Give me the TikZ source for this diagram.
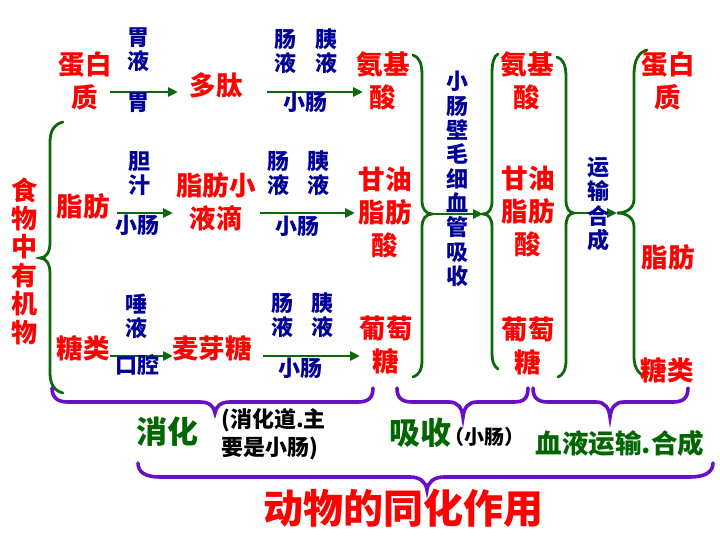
\documentclass[tikz,border=0pt]{standalone}
\usepackage{fontspec}
\setmainfont{Noto Sans CJK SC}
\usetikzlibrary{arrows.meta}
\definecolor{tred}{HTML}{FF0000}
\definecolor{tblue}{HTML}{000099}
\definecolor{tgreen}{HTML}{006600}
\definecolor{lgreen}{HTML}{0A6A0A}
\definecolor{tpurple}{HTML}{6A0FC8}
\tikzset{
  redlab/.style={text=tred,align=center,inner sep=0pt,font=\bfseries\fontsize{26.5}{33}\selectfont},
  redvert/.style={text=tred,align=center,inner sep=0pt,font=\bfseries\fontsize{26}{28.4}\selectfont},
  bluelab/.style={text=tblue,align=center,inner sep=0pt,font=\bfseries\fontsize{22}{24}\selectfont},
  bluevert/.style={text=tblue,align=center,inner sep=0pt,font=\bfseries\fontsize{22}{24.3}\selectfont},
  greenlab/.style={text=tgreen,inner sep=0pt,font=\bfseries\fontsize{31}{33}\selectfont},
  blacklab/.style={text=black,inner sep=0pt,font=\bfseries\fontsize{22}{28}\selectfont},
  conv/.style={draw=lgreen,line width=2.8pt,-{Triangle[length=10pt,width=9pt]}},
  gbrace/.style={draw=lgreen,line width=2.8pt,line cap=round},
  pbrace/.style={draw=tpurple,line width=3.6pt,line cap=round},
}
\begin{document}
\begin{tikzpicture}[x=1pt,y=-1pt]
\useasboundingbox (0,0) rectangle (720,540);
% arrow end points
\coordinate (a1s) at (110,92);  \coordinate (a1e) at (178,92);
\coordinate (a2s) at (267,92);  \coordinate (a2e) at (363,92);
\coordinate (a3s) at (117,213); \coordinate (a3e) at (173,213);
\coordinate (a4s) at (260,213); \coordinate (a4e) at (355,213);
\coordinate (a5s) at (110,356); \coordinate (a5e) at (173,356);
\coordinate (a6s) at (263,356); \coordinate (a6e) at (360,356);
\coordinate (bBtip) at (432,214); \coordinate (bCtip) at (483,214);
\coordinate (bDtip) at (574,213); \coordinate (bEtip) at (617,213);
% green braces
\draw[gbrace] (63,122) .. controls (55,124) and (50,130) .. (50,142) -- (50,243)
  .. controls (50,252) and (46,258) .. (40,258) .. controls (46,258) and (50,264) .. (50,273)
  -- (50,373) .. controls (50,385) and (55,391) .. (63,393);
\draw[gbrace] (413,55) .. controls (419,57) and (422,63) .. (422,75) -- (422,201)
  .. controls (422,209) and (426,214) .. (bBtip) .. controls (426,214) and (422,219) .. (422,227)
  -- (422,360) .. controls (422,370) and (419,375) .. (413,377);
\draw[gbrace] (498,54) .. controls (494,56) and (492,62) .. (492,74) -- (492,201)
  .. controls (492,209) and (489,214) .. (bCtip) .. controls (489,214) and (492,219) .. (492,227)
  -- (492,352) .. controls (492,362) and (494,366) .. (498,369);
\draw[gbrace] (557,57) .. controls (563,59) and (566,65) .. (566,77) -- (566,200)
  .. controls (566,208) and (569,213) .. (bDtip) .. controls (569,213) and (566,218) .. (566,226)
  -- (566,360) .. controls (566,370) and (563,375) .. (558,377);
\draw[gbrace] (647,50) .. controls (639,52) and (634,60) .. (634,74) -- (634,199)
  .. controls (634,208) and (627,213) .. (bEtip) .. controls (627,213) and (634,218) .. (634,227)
  -- (634,357) .. controls (634,368) and (639,375) .. (647,377);
% purple braces
\draw[pbrace] (52,388) .. controls (52,398) and (58,402) .. (68,402) -- (200,402)
  .. controls (209,402) and (214,406) .. (215,413) .. controls (216,406) and (221,402) .. (230,402)
  -- (358,402) .. controls (368,402) and (373,398) .. (373,388);
\draw[pbrace] (397,388) .. controls (397,398) and (402,402) .. (412,402) -- (449,402)
  .. controls (458,402) and (462,408) .. (463,417) .. controls (464,408) and (468,402) .. (477,402)
  -- (514,402) .. controls (524,402) and (528,398) .. (528,388);
\draw[pbrace] (533,388) .. controls (533,398) and (538,402) .. (548,402) -- (596,402)
  .. controls (605,402) and (609,408) .. (610,417) .. controls (611,408) and (615,402) .. (624,402)
  -- (673,402) .. controls (683,402) and (688,398) .. (688,388);
\draw[pbrace] (138,463) .. controls (138,472) and (145,477) .. (160,477) -- (410,477)
  .. controls (420,477) and (426,482) .. (427,490) .. controls (428,482) and (434,477) .. (444,477)
  -- (690,477) .. controls (705,477) and (713,472) .. (713,463);
% arrows
\draw[conv] (a1s) -- (a1e);
\draw[conv] (a2s) -- (a2e);
\draw[conv] (a3s) -- (a3e);
\draw[conv] (a4s) -- (a4e);
\draw[conv] (a5s) -- (a5e);
\draw[conv] (a6s) -- (a6e);
\draw[conv] (bBtip) -- (bCtip);
\draw[conv] (bDtip) -- (bEtip);
% red labels
\node[redlab] (dbz1) at (85,81) {蛋白\\质};
\node[redlab] (dt) at (216,85) {多肽};
\node[redlab] (ajs1) at (383,81) {氨基\\酸};
\node[redlab] (zf1) at (83,206) {脂肪};
\node[redlab] (zfxyd) at (216,202) {脂肪小\\液滴};
\node[redlab] (gyzfs1) at (385,213) {甘油\\脂肪\\酸};
\node[redlab] (tl1) at (83,348) {糖类};
\node[redlab] (myt) at (212,348) {麦芽糖};
\node[redlab] (ptt1) at (386,345) {葡萄\\糖};
\node[redlab] (ajs2) at (527,81) {氨基\\酸};
\node[redlab] (gyzfs2) at (528,212) {甘油\\脂肪\\酸};
\node[redlab] (ptt2) at (528,346) {葡萄\\糖};
\node[redlab] (dbz2) at (668,81) {蛋白\\质};
\node[redlab] (zf2) at (668,257) {脂肪};
\node[redlab] (tl2) at (667,370) {糖类};
\node[redvert] (swzyjw) at (24,261) {食\\物\\中\\有\\机\\物};
% blue labels
\node[bluelab] (wy) at (138,50) {胃\\液};
\node[bluelab] (w) at (138,103) {胃};
\node[bluelab] (cy1) at (285,51) {肠\\液};
\node[bluelab] (yy1) at (326,51) {胰\\液};
\node[bluelab] (xc1) at (305,102) {小肠};
\node[bluelab] (dz) at (139,174) {胆\\汁};
\node[bluelab] (xc2) at (137,225) {小肠};
\node[bluelab] (cy2) at (278,173) {肠\\液};
\node[bluelab] (yy2) at (318,173) {胰\\液};
\node[bluelab] (xc3) at (297,226) {小肠};
\node[bluelab] (ty) at (136,316) {唾\\液};
\node[bluelab] (kq) at (137,365) {口腔};
\node[bluelab] (cy3) at (282,315) {肠\\液};
\node[bluelab] (yy3) at (322,315) {胰\\液};
\node[bluelab] (xc4) at (300,368) {小肠};
\node[bluevert] (xcb) at (457,179) {小\\肠\\壁\\毛\\细\\血\\管\\吸\\收};
\node[bluevert] (yshc) at (598,204) {运\\输\\合\\成};
% bottom labels
\node[greenlab] (xh) at (167,432) {消化};
\node[blacklab,align=left,anchor=west] (note1) at (221,434) {(消化道.主\\要是小肠)};
\node[greenlab] (xs) at (420,433) {吸收};
\node[blacklab,font=\bfseries\fontsize{20}{22}\selectfont] (note2) at (484,437) {（小肠）};
\node[greenlab,font=\bfseries\fontsize{26.5}{30}\selectfont] (xyys) at (620,443) {血液运输.合成};
\node[text=tred,inner sep=0pt,font=\bfseries\fontsize{40}{44}\selectfont] (title) at (403,508) {动物的同化作用};
\end{tikzpicture}
\end{document}
